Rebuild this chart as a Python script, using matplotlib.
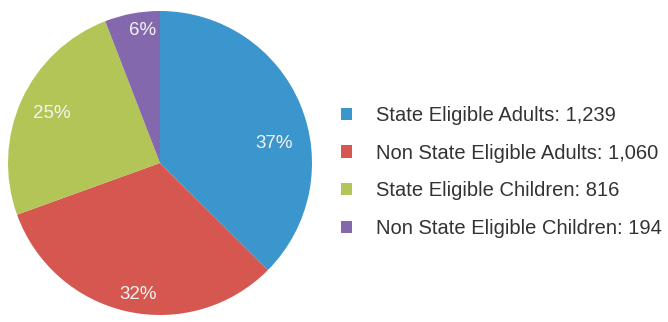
import numpy as np
import matplotlib.pyplot as plt
from matplotlib.patches import Patch

# data
categories = ["State Eligible Adults", "Non State Eligible Adults",
              "State Eligible Children", "Non State Eligible Children"]
counts = [1239, 1060, 816, 194]
pct_labels = ["37%", "32%", "25%", "6%"]
colors = ["#3a96cc", "#d65650", "#b3c556", "#8468ad"]

# label placement tweaks (distance from centre, angle nudge in degrees)
label_dist = [0.76, 0.88, 0.78, 0.88]
label_nudge = [-13, 3, 0, -3]

plt.rcParams["font.family"] = ["Liberation Sans", "DejaVu Sans"]

fig = plt.figure(figsize=(6.68, 3.22), dpi=100)
cx, cy, r = 160, 163, 152
ax = fig.add_axes([(cx - r) / 668, (322 - cy - r) / 322, 2 * r / 668, 2 * r / 322])

wedges, texts = ax.pie(counts, colors=colors, startangle=90, counterclock=False,
                       wedgeprops=dict(linewidth=0))
ax.set_xlim(-1, 1)
ax.set_ylim(-1, 1)
ax.set_aspect("equal")

# percentage labels along each wedge's middle angle
total = sum(counts)
start = 90.0
for i, c in enumerate(counts):
    span = 360.0 * c / total
    mid = np.deg2rad(start - span / 2 + label_nudge[i])
    d = label_dist[i]
    ax.text(d * np.cos(mid), d * np.sin(mid), pct_labels[i], color="#f4f4f4",
            fontsize=13.5, ha="center", va="center")
    start -= span

handles = [Patch(facecolor=col, edgecolor="none") for col in colors]
legend_labels = [f"{n}: {v:,}" for n, v in zip(categories, counts)]
leg = fig.legend(handles, legend_labels, loc="upper left", frameon=False,
                 fontsize=14.5, labelspacing=0.92, handlelength=0.55,
                 handleheight=0.55, handletextpad=1.2, labelcolor="#333333")
leg.set_bbox_to_anchor((323 / 668, (322 - 88) / 322), transform=fig.transFigure)

fig.savefig("out.png", dpi=100)
